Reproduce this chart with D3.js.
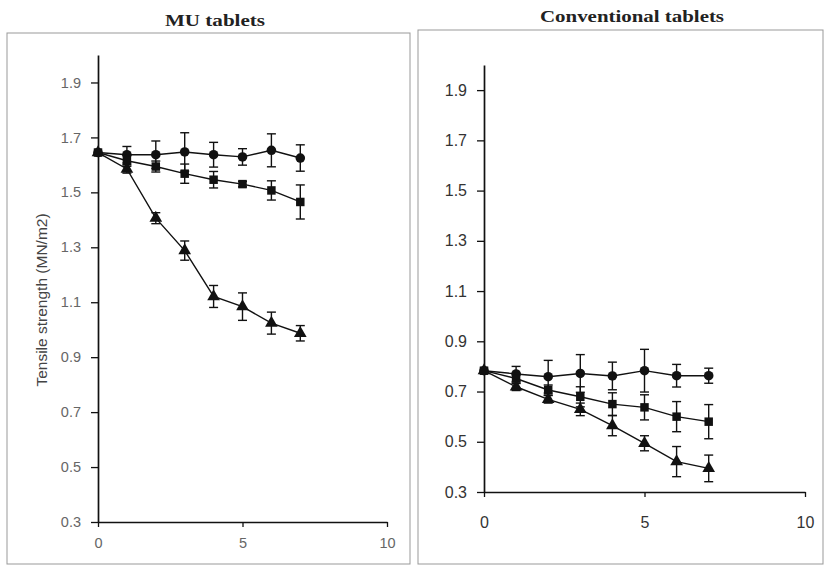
<!DOCTYPE html>
<html>
<head>
  <meta charset='utf-8'>
  <style>
    body { margin: 0; background: #fff; }
  </style>
  <script src='https://cdn.jsdelivr.net/npm/d3@7'></script>
</head>
<body>
<script>
  let [width, height] = [824, 567]

  // storage time (x)
  let days = [0, 1, 2, 3, 4, 5, 6, 7]
  let xTicks = [0, 5, 10]
  let yTicks = [0.3, 0.5, 0.7, 0.9, 1.1, 1.3, 1.5, 1.7, 1.9]

  // MU tablets
  let muCircle = [1.645, 1.637, 1.637, 1.647, 1.637, 1.629, 1.653, 1.625]
  let muCircleErr = [0, 0.03, 0.05, 0.07, 0.045, 0.03, 0.06, 0.048]
  let muSquare = [1.645, 1.615, 1.594, 1.568, 1.546, 1.530, 1.507, 1.465]
  let muSquareErr = [0, 0.02, 0.02, 0.035, 0.03, 0.01, 0.035, 0.062]
  let muTriangle = [1.645, 1.585, 1.406, 1.288, 1.121, 1.084, 1.024, 0.987]
  let muTriangleErr = [0, 0.015, 0.02, 0.035, 0.04, 0.05, 0.04, 0.028]

  // conventional tablets
  let convCircle = [0.783, 0.770, 0.759, 0.772, 0.762, 0.783, 0.763, 0.763]
  let convCircleErr = [0, 0.03, 0.065, 0.075, 0.055, 0.085, 0.045, 0.03]
  let convSquare = [0.783, 0.752, 0.706, 0.679, 0.650, 0.637, 0.600, 0.580]
  let convSquareErr = [0, 0.02, 0.02, 0.04, 0.045, 0.05, 0.06, 0.068]
  let convTriangle = [0.783, 0.719, 0.669, 0.629, 0.564, 0.494, 0.421, 0.394]
  let convTriangleErr = [0, 0.015, 0.015, 0.025, 0.04, 0.03, 0.06, 0.053]

  let svg = d3.select("body")
    .append("svg")
    .attr("width", width)
    .attr("height", height)

  let panels = [
    {
      title: "MU tablets", titleX: 215, titleY: 26, titleLen: 100,
      frame: [7, 33, 410, 564],
      x: [98, 387], y: [522, 55],
      tickFont: 14.5, tickColor: "#666", xLabelDy: 25,
      ylabel: "Tensile strength (MN/m2)",
      series: [[muCircle, muCircleErr, d3.symbolCircle],
               [muSquare, muSquareErr, d3.symbolSquare],
               [muTriangle, muTriangleErr, d3.symbolTriangle]]
    },
    {
      title: "Conventional tablets", titleX: 632, titleY: 22, titleLen: 184,
      frame: [418, 30, 823, 564],
      x: [484, 805], y: [492, 65],
      tickFont: 16, tickColor: "#333", xLabelDy: 34,
      series: [[convCircle, convCircleErr, d3.symbolCircle],
               [convSquare, convSquareErr, d3.symbolSquare],
               [convTriangle, convTriangleErr, d3.symbolTriangle]]
    }
  ]

  panels.forEach(p => {
    let [fx0, fy0, fx1, fy1] = p.frame
    svg.append("rect")
      .attr("x", fx0).attr("y", fy0)
      .attr("width", fx1 - fx0).attr("height", fy1 - fy0)
      .attr("fill", "none")
      .attr("stroke", "#999")
      .attr("stroke-width", 1)

    svg.append("text")
      .attr("x", p.titleX).attr("y", p.titleY)
      .attr("text-anchor", "middle")
      .attr("font-family", "Liberation Serif, serif")
      .attr("font-weight", "bold")
      .attr("font-size", 16)
      .attr("textLength", p.titleLen)
      .attr("lengthAdjust", "spacingAndGlyphs")
      .attr("fill", "#222")
      .text(p.title)

    let x = d3.scaleLinear([0, 10], p.x)
    let y = d3.scaleLinear([0.3, 2.0], p.y)

    let yAxis = svg.append("g")
      .attr("transform", `translate(${p.x[0]},0)`)
      .call(d3.axisLeft(y).tickValues(yTicks).tickFormat(d3.format(".1f")).tickSizeInner(7).tickSizeOuter(0).tickPadding(10))
    let xAxis = svg.append("g")
      .attr("transform", `translate(0,${p.y[0]})`)
      .call(d3.axisBottom(x).tickValues(xTicks).tickSizeInner(5).tickSizeOuter(0).tickPadding(p.xLabelDy - 14))

    ;[yAxis, xAxis].forEach(a => {
      a.select(".domain").attr("stroke", "#111").attr("stroke-width", 1.7)
      a.selectAll(".tick line").attr("stroke", "#111").attr("stroke-width", 1.3)
      a.selectAll(".tick text")
        .style("font-family", "Liberation Sans, Arial, sans-serif")
        .style("font-size", p.tickFont + "px")
        .attr("fill", p.tickColor)
    })

    if (p.ylabel) {
      svg.append("text")
        .attr("transform", `translate(47,300) rotate(-90)`)
        .attr("text-anchor", "middle")
        .style("font-family", "Liberation Sans, Arial, sans-serif")
        .style("font-size", "15.5px")
        .attr("fill", "#444")
        .text(p.ylabel)
    }

    let line = d3.line().x((d, i) => x(days[i])).y(d => y(d))
    let g = svg.append("g")

    p.series.forEach(([vals, errs, sym]) => {
      g.append("path")
        .attr("d", line(vals))
        .attr("fill", "none")
        .attr("stroke", "#111")
        .attr("stroke-width", 1.4)

      let eb = g.append("g").attr("stroke", "#111").attr("stroke-width", 1.4)
      vals.forEach((v, i) => {
        if (!errs[i]) return
        let cx = x(days[i])
        let top = y(v + errs[i]), bot = y(v - errs[i])
        eb.append("line").attr("x1", cx).attr("x2", cx).attr("y1", top).attr("y2", bot)
        eb.append("line").attr("x1", cx - 4.5).attr("x2", cx + 4.5).attr("y1", top).attr("y2", top)
        eb.append("line").attr("x1", cx - 4.5).attr("x2", cx + 4.5).attr("y1", bot).attr("y2", bot)
      })

      g.selectAll(null)
        .data(vals)
        .enter()
        .append("path")
        .attr("transform", (d, i) => `translate(${x(days[i])},${y(d)})`)
        .attr("d", d3.symbol().type(sym).size(sym === d3.symbolTriangle ? 70 : 72))
        .attr("fill", "#111")
    })
  })
</script>
</body>
</html>
